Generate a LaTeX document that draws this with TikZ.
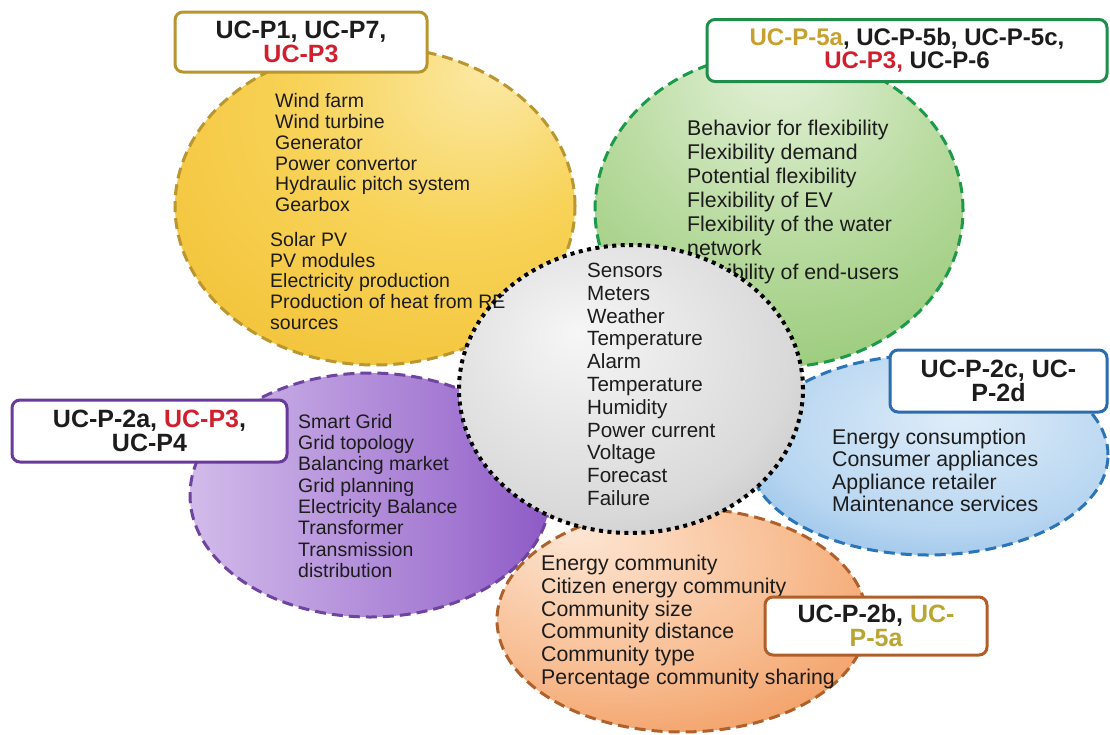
\documentclass[tikz,border=0pt]{standalone}
\usepackage{fontspec}
\setmainfont{Liberation Sans}

% text colours
\definecolor{ink}{HTML}{1C1C1C}
\definecolor{ucred}{HTML}{D21F2E}
\definecolor{ucgold}{HTML}{C6A130}
\definecolor{ucolive}{HTML}{B9A632}
% fills of the domain ellipses
\definecolor{yelA}{HTML}{FBE9A6}
\definecolor{yelB}{HTML}{F8D358}
\definecolor{yelC}{HTML}{F1BC2B}
\definecolor{grnA}{HTML}{E6F2DC}
\definecolor{grnB}{HTML}{B9DBA0}
\definecolor{grnC}{HTML}{86C163}
\definecolor{purA}{HTML}{E7DAF4}
\definecolor{purB}{HTML}{D2BBEA}
\definecolor{purC}{HTML}{A57BD3}
\definecolor{purD}{HTML}{7E43BC}
\definecolor{purE}{HTML}{7334B3}
\definecolor{bluA}{HTML}{DFEDF9}
\definecolor{bluB}{HTML}{B8D6F1}
\definecolor{bluC}{HTML}{6AA6DD}
\definecolor{orgA}{HTML}{FDE6D3}
\definecolor{orgB}{HTML}{F8BD92}
\definecolor{orgC}{HTML}{EE8A45}
\definecolor{gryA}{HTML}{F6F6F6}
\definecolor{gryB}{HTML}{D9D9D9}
\definecolor{gryC}{HTML}{ABABAB}
% outlines
\definecolor{yrim}{HTML}{B9962F}
\definecolor{grim}{HTML}{1C9A4A}
\definecolor{prim}{HTML}{6E449E}
\definecolor{brim}{HTML}{2B74B8}
\definecolor{orim}{HTML}{B0612B}
\definecolor{ybox}{HTML}{B8952D}
\definecolor{gbox}{HTML}{1E8E4A}
\definecolor{pbox}{HTML}{6A3A9A}
\definecolor{bbox}{HTML}{2A6DAE}
\definecolor{obox}{HTML}{B15F29}

\pgfdeclareradialshading{yellowfill}{\pgfpoint{15bp}{22bp}}{color(0bp)=(yelA); color(20bp)=(yelB); color(50bp)=(yelC); color(72bp)=(yelC)}
\pgfdeclareradialshading{greenfill}{\pgfpoint{0bp}{25bp}}{color(0bp)=(grnA); color(22bp)=(grnB); color(50bp)=(grnC); color(72bp)=(grnC)}
\pgfdeclarehorizontalshading{purplefill}{100bp}{color(0bp)=(purA); color(25bp)=(purB); color(60bp)=(purC); color(85bp)=(purD); color(100bp)=(purE)}
\pgfdeclareradialshading{bluefill}{\pgfpoint{5bp}{10bp}}{color(0bp)=(bluA); color(25bp)=(bluB); color(50bp)=(bluC); color(72bp)=(bluC)}
\pgfdeclareradialshading{orangefill}{\pgfpoint{-15bp}{20bp}}{color(0bp)=(orgA); color(25bp)=(orgB); color(50bp)=(orgC); color(72bp)=(orgC)}
\pgfdeclareradialshading{grayfill}{\pgfpoint{-8bp}{10bp}}{color(0bp)=(gryA); color(28bp)=(gryB); color(50bp)=(gryC); color(72bp)=(gryC)}

\tikzset{
  rim/.style={line width=3pt, dash pattern=on 11pt off 6pt},
  dotrim/.style={draw=black, line width=4pt, dash pattern=on 4pt off 4.5pt},
  bodytext/.style={anchor=north west, inner sep=0pt, align=left, text=ink},
  ucbox/.style={draw, line width=3pt, rounded corners=8pt, fill=white, inner sep=0pt,
    align=center, text=ink, font=\bfseries\fontsize{25}{24}\selectfont},
}

\begin{document}
\begin{tikzpicture}[x=1pt, y=-1pt]
\useasboundingbox (0,0) rectangle (1110,734);

% domain ellipses
\shadedraw[shading=yellowfill, draw=yrim, rim] (375,206) ellipse [x radius=200pt, y radius=159pt];
\shadedraw[shading=greenfill, draw=grim, rim] (779,210) ellipse [x radius=184pt, y radius=157pt];
\shadedraw[shading=purplefill, draw=prim, rim] (370,495) ellipse [x radius=180pt, y radius=122pt];
\shadedraw[shading=bluefill, draw=brim, rim] (928,455) ellipse [x radius=180pt, y radius=100pt];
\shadedraw[shading=orangefill, draw=orim, rim] (682,620) ellipse [x radius=185pt, y radius=112pt];

% flexibility topics
\node[bodytext, font=\fontsize{21.3}{24}\selectfont] (flexlist) at (687,120)
  {Behavior for flexibility\\Flexibility demand\\Potential flexibility\\Flexibility of EV\\Flexibility of the water\\network\\Flexibility of end-users};

% central data ellipse
\shade[shading=grayfill] (631,389) ellipse [x radius=172pt, y radius=144pt];

% renewable production topics
\node[bodytext, font=\fontsize{19.5}{20.9}\selectfont] (windlist) at (275,93)
  {Wind farm\\Wind turbine\\Generator\\Power convertor\\Hydraulic pitch system\\Gearbox};
\node[bodytext, font=\fontsize{19.5}{20.7}\selectfont] (solarlist) at (270,232)
  {Solar PV\\PV modules\\Electricity production\\Production of heat from RE\\sources};

\draw[dotrim] (631,389) ellipse [x radius=172pt, y radius=144pt];

\node[bodytext, font=\fontsize{20.6}{22.8}\selectfont] (datalist) at (587,263)
  {Sensors\\Meters\\Weather\\Temperature\\Alarm\\Temperature\\Humidity\\Power current\\Voltage\\Forecast\\Failure};

% grid topics
\node[bodytext, font=\fontsize{19.5}{21.3}\selectfont] (gridlist) at (298,414)
  {Smart Grid\\Grid topology\\Balancing market\\Grid planning\\Electricity Balance\\Transformer\\Transmission\\distribution};

% consumption topics
\node[bodytext, font=\fontsize{21.3}{22.2}\selectfont] (consumelist) at (832,429)
  {Energy consumption\\Consumer appliances\\Appliance retailer\\Maintenance services};

% community topics
\node[bodytext, font=\fontsize{21.3}{22.7}\selectfont] (communitylist) at (541,555)
  {Energy community\\Citizen energy community\\Community size\\Community distance\\Community type\\Percentage community sharing};

% use-case labels
\node[ucbox, draw=ybox, minimum width=252pt, minimum height=60pt] (ucyellow) at (301,42)
  {UC-P1, UC-P7,\\\textcolor{ucred}{UC-P3}};
\node[ucbox, draw=gbox, minimum width=400pt, minimum height=62pt,
      font=\bfseries\fontsize{24}{23}\selectfont] (ucgreen) at (907,50.5)
  {\textcolor{ucgold}{UC-P-5a}, UC-P-5b, UC-P-5c,\\\textcolor{ucred}{UC-P3,} UC-P-6};
\node[ucbox, draw=pbox, minimum width=275pt, minimum height=62pt] (ucpurple) at (149.5,431)
  {UC-P-2a, \textcolor{ucred}{UC-P3},\\UC-P4};
\node[ucbox, draw=bbox, minimum width=217pt, minimum height=62pt] (ucblue) at (998.5,381)
  {UC-P-2c, UC-\\P-2d};
\node[ucbox, draw=obox, minimum width=222pt, minimum height=58pt] (ucorange) at (876,626)
  {UC-P-2b, \textcolor{ucolive}{UC-}\\\textcolor{ucolive}{P-5a}};
\end{tikzpicture}
\end{document}
